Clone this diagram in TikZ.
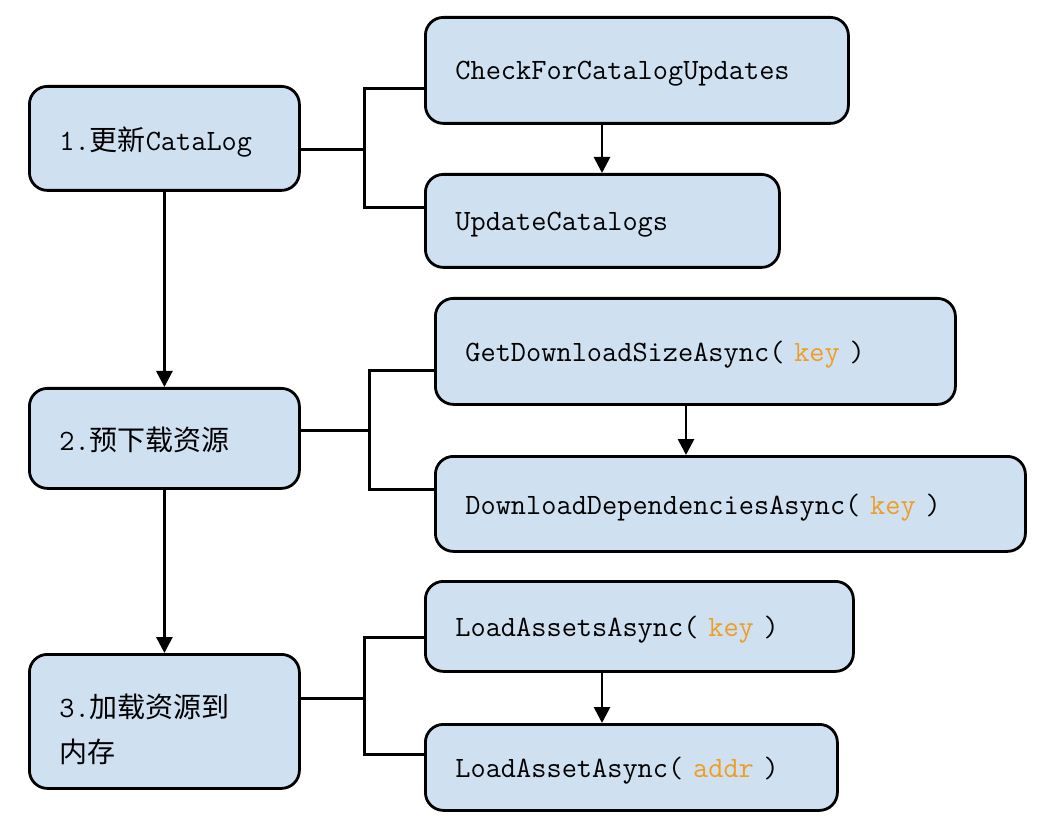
\documentclass[tikz,border=0pt]{standalone}
\usepackage{fontspec}
\newfontfamily\cjk{Noto Sans CJK SC}
\usepackage{xcolor}
\usetikzlibrary{arrows.meta}
\definecolor{boxfill}{RGB}{207,224,241}
\definecolor{keyorange}{RGB}{238,158,36}
\newcommand{\argkey}[1]{\textcolor{keyorange}{#1}}
\newcommand{\zh}[1]{{\cjk\fontsize{28}{45}\selectfont #1}}

\tikzset{
  stepbox/.style={draw, line width=2.8pt, fill=boxfill, rounded corners=18pt,
    anchor=north west, align=left, inner xsep=30pt, inner ysep=0pt,
    font=\ttfamily\fontsize{29.5}{45}\selectfont, text depth=0pt},
  link/.style={line width=3pt},
  flow/.style={line width=2.8pt, -{Triangle[length=16pt,width=16pt]}},
}

\begin{document}
\begin{tikzpicture}[x=1pt, y=-1pt]
  \useasboundingbox (0,0) rectangle (1050,834);
  % left column
  \node[stepbox, text width=210pt, minimum height=104pt] (upd) at (28,85) {1.\zh{更新}CataLog};
  \node[stepbox, text width=210pt, minimum height=100pt] (pre) at (28,387) {2.\zh{预下载资源}};
  \node[stepbox, text width=210pt, minimum height=134pt, text depth=32pt] (mem) at (28,653) {3.\zh{加载资源到}\\\zh{内存}};
  % right column
  \node[stepbox, text width=363pt, minimum height=106pt] (chk) at (424,16) {CheckForCatalogUpdates};
  \node[stepbox, text width=294pt, minimum height=93pt] (cat) at (424,173) {UpdateCatalogs};
  \node[stepbox, text width=460pt, minimum height=106pt] (size) at (434,297) {GetDownloadSizeAsync( \argkey{key} )};
  \node[stepbox, text width=530pt, minimum height=95pt] (deps) at (434,455) {DownloadDependenciesAsync( \argkey{key} )};
  \node[stepbox, text width=368pt, minimum height=90pt] (ld) at (424,580) {LoadAssetsAsync( \argkey{key} )};
  \node[stepbox, text width=352pt, minimum height=86pt] (ldone) at (424,723) {LoadAssetAsync( \argkey{addr} )};

  % brackets
  \draw[link] ([yshift=-11pt]upd.east) -- ++(64,0) coordinate (j1);
  \draw[link] ([yshift=-18pt]chk.west) -| (j1) |- ([yshift=13pt]cat.west);
  \draw[link] ([yshift=8pt]pre.east) -- ++(69,0) coordinate (j2);
  \draw[link] ([yshift=-19pt]size.west) -| (j2) |- ([yshift=14pt]deps.west);
  \draw[link] ([yshift=23pt]mem.east) -- ++(64,0) coordinate (j3);
  \draw[link] ([yshift=-11pt]ld.west) -| (j3) |- ([yshift=13pt]ldone.west);

  % arrows
  \draw[flow] (chk.south -| 602,0) -- (cat.north -| 602,0);
  \draw[flow] (size.south -| 686,0) -- (deps.north -| 686,0);
  \draw[flow] (ld.south -| 602,0) -- (ldone.north -| 602,0);
  \draw[flow] (upd.south) -- (pre.north);
  \draw[flow] (pre.south) -- (mem.north);
\end{tikzpicture}
\end{document}
